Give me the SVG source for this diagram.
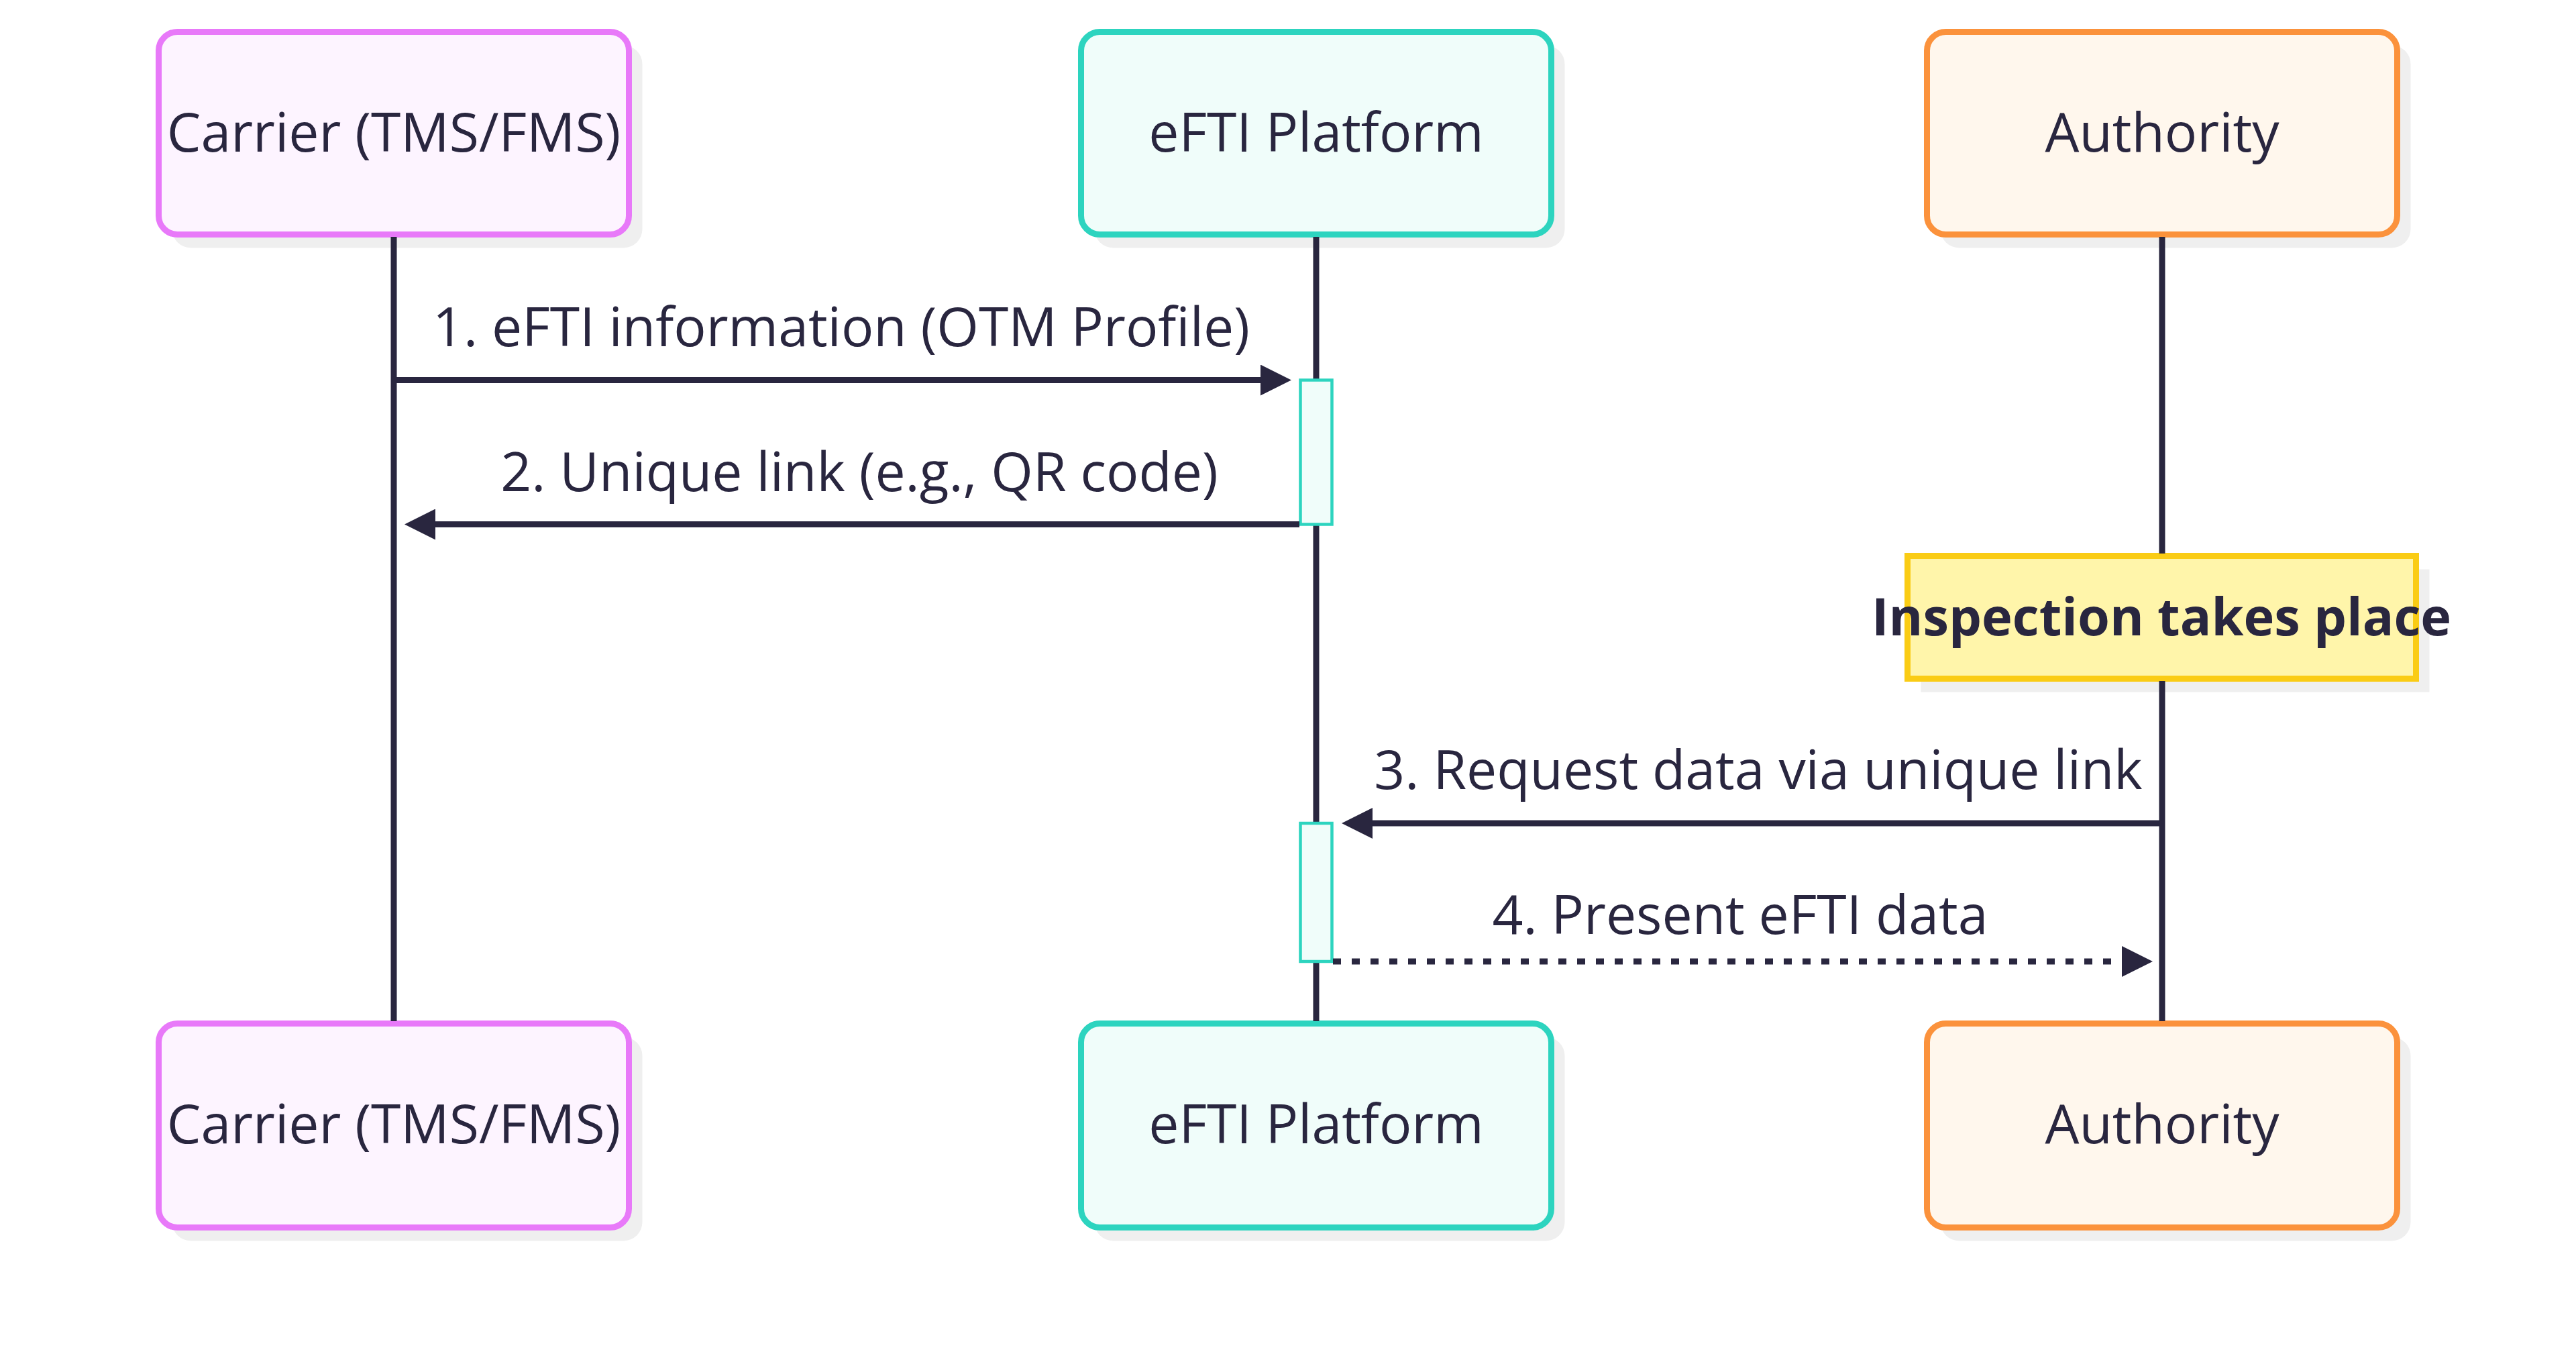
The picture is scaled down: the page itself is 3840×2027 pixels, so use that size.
<svg xmlns="http://www.w3.org/2000/svg" width="3840" height="2027" viewBox="0 0 3840 2027">
  <style>
    .shadow { fill: #efefef; }
    .actor text, .lbl { font-family: "Open Sans", "Noto Sans", "Liberation Sans", sans-serif; font-size: 80.5px; fill: #29263f; text-anchor: middle; }
    .carrier { fill: #fdf4ff; stroke: #e879f9; stroke-width: 9; }
    .efti { fill: #f0fdfa; stroke: #2dd4bf; stroke-width: 9; }
    .auth { fill: #fff7ed; stroke: #fb923c; stroke-width: 9; }
    .life { stroke: #29263f; stroke-width: 9; fill: none; }
    .msg { stroke: #29263f; stroke-width: 9; fill: none; }
    .dotted { stroke-dasharray: 12 16; }
    .act { fill: #f0fdfa; stroke: #2dd4bf; stroke-width: 4.5; }
    .note { fill: #fff5aa; stroke: #facc15; stroke-width: 9; }
    .notetext { font-weight: bold; font-size: 77.5px; }
  </style>
  <defs>
    <marker id="arrow" markerUnits="userSpaceOnUse" markerWidth="46" markerHeight="46" viewBox="0 -23 46 46" refX="0" refY="0" orient="auto">
      <path d="M0,-23 L46,0 L0,23 Z" fill="#29263f"/>
    </marker>
  </defs>
  <rect width="3840" height="2027" fill="#ffffff"/>

  <g id="carrier-top" class="actor">
    <rect class="shadow" x="256.5" y="67.5" width="701" height="302" rx="28"/>
    <rect class="carrier" x="236.5" y="47.5" width="701" height="302" rx="28"/>
    <text x="587" y="226">Carrier (TMS/FMS)</text>
  </g>
  <g id="efti-top" class="actor">
    <rect class="shadow" x="1631.5" y="67.5" width="701" height="302" rx="28"/>
    <rect class="efti" x="1611.5" y="47.5" width="701" height="302" rx="28"/>
    <text x="1962" y="226">eFTI Platform</text>
  </g>
  <g id="authority-top" class="actor">
    <rect class="shadow" x="2892.5" y="67.5" width="701" height="302" rx="28"/>
    <rect class="auth" x="2872.5" y="47.5" width="701" height="302" rx="28"/>
    <text x="3223" y="226">Authority</text>
  </g>

  <g id="carrier-bottom" class="actor">
    <rect class="shadow" x="256.5" y="1545.5" width="701" height="304" rx="28"/>
    <rect class="carrier" x="236.5" y="1525.5" width="701" height="304" rx="28"/>
    <text x="587" y="1704">Carrier (TMS/FMS)</text>
  </g>
  <g id="efti-bottom" class="actor">
    <rect class="shadow" x="1631.5" y="1545.5" width="701" height="304" rx="28"/>
    <rect class="efti" x="1611.5" y="1525.5" width="701" height="304" rx="28"/>
    <text x="1962" y="1704">eFTI Platform</text>
  </g>
  <g id="authority-bottom" class="actor">
    <rect class="shadow" x="2892.5" y="1545.5" width="701" height="304" rx="28"/>
    <rect class="auth" x="2872.5" y="1525.5" width="701" height="304" rx="28"/>
    <text x="3223" y="1704">Authority</text>
  </g>

  <g id="note-inspection">
    <rect class="shadow" x="2863.5" y="848.5" width="758" height="183"/>
    <rect class="note" x="2843.5" y="828.5" width="758" height="183"/>
    <text class="lbl notetext" x="3222" y="947">Inspection takes place</text>
  </g>

  <g id="lifelines">
    <line class="life" x1="587" y1="353" x2="587" y2="1522"/>
    <line class="life" x1="1962" y1="353" x2="1962" y2="1522"/>
    <line class="life" x1="3223" y1="353" x2="3223" y2="825"/>
    <line class="life" x1="3223" y1="1015" x2="3223" y2="1522"/>
  </g>

  <g id="activations">
    <rect class="act" x="1938.5" y="566.5" width="47" height="215"/>
    <rect class="act" x="1938.5" y="1227" width="47" height="206"/>
  </g>

  <g id="connectors">
    <line class="msg" x1="587" y1="566.5" x2="1879" y2="566.5" marker-end="url(#arrow)"/>
    <line class="msg" x1="1937" y1="781.5" x2="649" y2="781.5" marker-end="url(#arrow)"/>
    <line class="msg" x1="3223" y1="1227" x2="2046" y2="1227" marker-end="url(#arrow)"/>
    <line class="msg dotted" x1="1987" y1="1433" x2="3163" y2="1433" marker-end="url(#arrow)"/>
  </g>

  <g id="message-labels">
    <text class="lbl" x="1254" y="516">1. eFTI information (OTM Profile)</text>
    <text class="lbl" x="1281" y="732">2. Unique link (e.g., QR code)</text>
    <text class="lbl" x="2621" y="1176">3. Request data via unique link</text>
    <text class="lbl" x="2594" y="1392">4. Present eFTI data</text>
  </g>
</svg>
